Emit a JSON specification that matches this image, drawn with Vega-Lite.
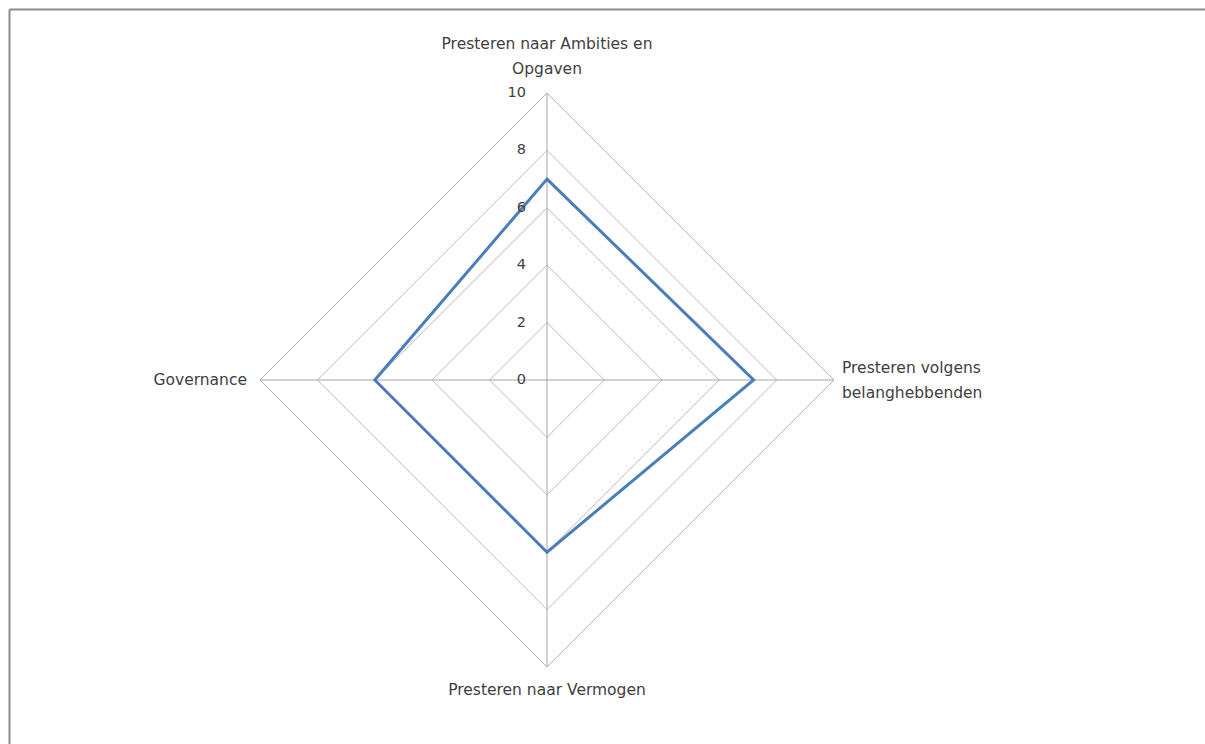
{
  "$schema": "https://vega.github.io/schema/vega-lite/v6.json",
  "width": 1196,
  "height": 735,
  "padding": {"left": 9, "top": 9, "right": 0, "bottom": 0},
  "autosize": "none",
  "background": "white",
  "config": {
    "view": {"stroke": null},
    "text": {"font": "DejaVu Sans", "fontSize": 15.5, "color": "#404040"}
  },
  "datasets": {
    "cats": [
      {"label": "Presteren naar Ambities en\nOpgaven", "idx": 0, "value": 7},
      {"label": "Presteren volgens\nbelanghebbenden", "idx": 1, "value": 7.2},
      {"label": "Presteren naar Vermogen", "idx": 2, "value": 6},
      {"label": "Governance", "idx": 3, "value": 6}
    ],
    "grid": [
      {"level": 2, "k": 0}, {"level": 2, "k": 1}, {"level": 2, "k": 2}, {"level": 2, "k": 3},
      {"level": 4, "k": 0}, {"level": 4, "k": 1}, {"level": 4, "k": 2}, {"level": 4, "k": 3},
      {"level": 6, "k": 0}, {"level": 6, "k": 1}, {"level": 6, "k": 2}, {"level": 6, "k": 3},
      {"level": 8, "k": 0}, {"level": 8, "k": 1}, {"level": 8, "k": 2}, {"level": 8, "k": 3},
      {"level": 10, "k": 0}, {"level": 10, "k": 1}, {"level": 10, "k": 2}, {"level": 10, "k": 3}
    ],
    "ticks": [{"t": 0}, {"t": 2}, {"t": 4}, {"t": 6}, {"t": 8}, {"t": 10}]
  },
  "encoding": {
    "x": {
      "field": "px", "type": "quantitative",
      "scale": {"domain": [-18.746, 22.927], "nice": false, "zero": false},
      "axis": {"orient": "top", "domain": true, "domainColor": "#8c8c8c", "domainWidth": 2, "ticks": false, "labels": false, "grid": false, "title": null}
    },
    "y": {
      "field": "py", "type": "quantitative",
      "scale": {"domain": [-12.683, 12.927], "nice": false, "zero": false},
      "axis": {"orient": "left", "domain": true, "domainColor": "#8c8c8c", "domainWidth": 2, "ticks": false, "labels": false, "grid": false, "title": null}
    }
  },
  "layer": [
    {
      "data": {"name": "grid"},
      "transform": [
        {"calculate": "datum.level * sin(datum.k * PI / 2)", "as": "px"},
        {"calculate": "datum.level * cos(datum.k * PI / 2)", "as": "py"}
      ],
      "mark": {"type": "line", "interpolate": "linear-closed", "color": "#bababa", "strokeWidth": 1},
      "encoding": {
        "detail": {"field": "level", "type": "nominal"},
        "order": {"field": "k", "type": "quantitative"}
      }
    },
    {
      "data": {"name": "cats"},
      "transform": [
        {"calculate": "10 * sin(datum.idx * PI / 2)", "as": "px"},
        {"calculate": "10 * cos(datum.idx * PI / 2)", "as": "py"}
      ],
      "mark": {"type": "rule", "color": "#a6a6a6", "strokeWidth": 1},
      "encoding": {
        "x2": {"datum": 0},
        "y2": {"datum": 0}
      }
    },
    {
      "data": {"name": "cats"},
      "transform": [
        {"calculate": "datum.value * sin(datum.idx * PI / 2)", "as": "px"},
        {"calculate": "datum.value * cos(datum.idx * PI / 2)", "as": "py"}
      ],
      "mark": {"type": "line", "interpolate": "linear-closed", "color": "#4a7ebb", "strokeWidth": 3},
      "encoding": {
        "order": {"field": "idx", "type": "quantitative"}
      }
    },
    {
      "data": {"name": "ticks"},
      "transform": [
        {"calculate": "0", "as": "px"},
        {"calculate": "datum.t", "as": "py"}
      ],
      "mark": {"type": "text", "align": "right", "baseline": "middle", "dx": -21, "fontSize": 14.5},
      "encoding": {"text": {"field": "t", "type": "quantitative"}}
    },
    {
      "data": {"name": "cats"},
      "transform": [
        {"filter": "datum.idx == 0"},
        {"calculate": "0", "as": "px"},
        {"calculate": "10", "as": "py"}
      ],
      "mark": {"type": "text", "align": "center", "baseline": "middle", "dy": -49, "lineBreak": "\n", "lineHeight": 25},
      "encoding": {"text": {"field": "label"}}
    },
    {
      "data": {"name": "cats"},
      "transform": [
        {"filter": "datum.idx == 1"},
        {"calculate": "10", "as": "px"},
        {"calculate": "0", "as": "py"}
      ],
      "mark": {"type": "text", "align": "left", "baseline": "middle", "dx": 8, "dy": -12, "lineBreak": "\n", "lineHeight": 25},
      "encoding": {"text": {"field": "label"}}
    },
    {
      "data": {"name": "cats"},
      "transform": [
        {"filter": "datum.idx == 2"},
        {"calculate": "0", "as": "px"},
        {"calculate": "-10", "as": "py"}
      ],
      "mark": {"type": "text", "align": "center", "baseline": "middle", "dy": 23},
      "encoding": {"text": {"field": "label"}}
    },
    {
      "data": {"name": "cats"},
      "transform": [
        {"filter": "datum.idx == 3"},
        {"calculate": "-10", "as": "px"},
        {"calculate": "0", "as": "py"}
      ],
      "mark": {"type": "text", "align": "right", "baseline": "middle", "dx": -13},
      "encoding": {"text": {"field": "label"}}
    }
  ]
}
